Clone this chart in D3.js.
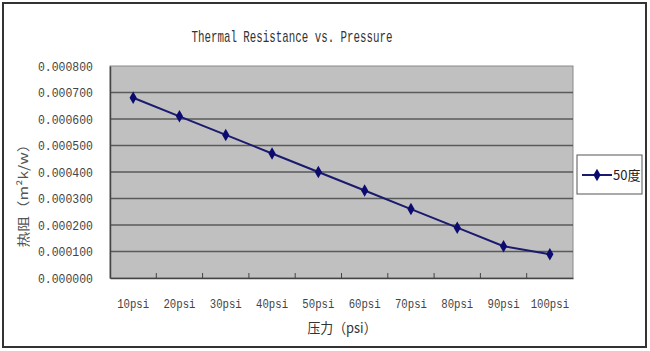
<!DOCTYPE html>
<html>
<head>
<meta charset="utf-8">
<script src="https://cdn.jsdelivr.net/npm/d3@7"></script>
<style>
  body { margin: 0; background: #fff; }
  .lat { font-family: "Liberation Mono", "DejaVu Sans Mono", monospace; }
  .cjk { font-family: "Noto Sans CJK SC", sans-serif; }
</style>
</head>
<body>
<script>
/* ------------------------------ chart data ------------------------------ */
const categories = ["10psi", "20psi", "30psi", "40psi", "50psi", "60psi", "70psi", "80psi", "90psi", "100psi"]
const series50 = [0.00068, 0.00061, 0.00054, 0.00047, 0.00040, 0.00033, 0.00026, 0.00019, 0.00012, 0.00009]
const yTicks = [0, 0.0001, 0.0002, 0.0003, 0.0004, 0.0005, 0.0006, 0.0007, 0.0008]
const seriesName = "50度"
const titleText = "Thermal Resistance vs. Pressure"
const xTitle = "压力（psi）"
const yTitle = "热阻（m²k/w）"

/* ----------------------------- document size ---------------------------- */
const width = 650, height = 351
const plot = { left: 110, top: 66, right: 573, bottom: 278 }

const svg = d3.select("body").append("svg").attr("width", width).attr("height", height)

// outer frame
svg.append("rect")
    .attr("x", 3).attr("y", 3).attr("width", 643).attr("height", 344)
    .attr("fill", "#fff").attr("stroke", "#333").attr("stroke-width", 2)

// scales
const x = d3.scaleBand().domain(categories).range([plot.left, plot.right])
const y = d3.scaleLinear().domain([0, 0.0008]).range([plot.bottom, plot.top])

// plot background
svg.append("rect")
    .attr("x", plot.left).attr("y", plot.top)
    .attr("width", plot.right - plot.left).attr("height", plot.bottom - plot.top)
    .attr("fill", "#c0c0c0").attr("stroke", "#8a8a8a").attr("stroke-width", 1)

// gridlines
svg.append("g").selectAll("line").data(yTicks.slice(1, -1)).enter().append("line")
    .attr("x1", plot.left).attr("x2", plot.right)
    .attr("y1", d => y(d)).attr("y2", d => y(d))
    .attr("stroke", "#5a5a5a").attr("stroke-width", 1.5)

// y axis
const yAxis = d3.axisLeft(y).tickValues(yTicks).tickSize(0).tickPadding(17)
    .tickFormat(d => d3.format(".6f")(d))
const gy = svg.append("g").attr("transform", `translate(${plot.left},0)`).call(yAxis)
gy.select(".domain").attr("stroke", "#444").attr("stroke-width", 1.5)
gy.selectAll("text").attr("class", "lat").attr("font-size", 13).attr("fill", "#444")
    .attr("textLength", 55).attr("lengthAdjust", "spacingAndGlyphs")

// x axis
const xAxis = d3.axisBottom(x).tickSize(0).tickPadding(21)
const gx = svg.append("g").attr("transform", `translate(0,${plot.bottom})`).call(xAxis)
gx.select(".domain").attr("stroke", "#444").attr("stroke-width", 1.5)
gx.selectAll("text").attr("class", "lat").attr("font-size", 13).attr("fill", "#444")
    .attr("textLength", d => d.length * 6.4).attr("lengthAdjust", "spacingAndGlyphs")
// tick marks at category boundaries, pointing inward
svg.append("g").selectAll("line").data(categories.slice(1)).enter().append("line")
    .attr("x1", d => x(d)).attr("x2", d => x(d))
    .attr("y1", plot.bottom).attr("y2", plot.bottom - 5)
    .attr("stroke", "#444").attr("stroke-width", 1)

// line
const line = d3.line().x((d, i) => x(categories[i]) + x.bandwidth() / 2).y(d => y(d))
svg.append("path").datum(series50)
    .attr("d", line).attr("fill", "none")
    .attr("stroke", "#1a1a6e").attr("stroke-width", 2)

// markers
const diamond = d3.symbol().type(d3.symbolDiamond).size(45)
svg.append("g").selectAll("path").data(series50).enter().append("path")
    .attr("d", diamond)
    .attr("transform", (d, i) => `translate(${x(categories[i]) + x.bandwidth() / 2},${y(d)})`)
    .attr("fill", "#0c0c70")

// titles
svg.append("text").attr("class", "lat").attr("x", 292).attr("y", 42).attr("text-anchor", "middle")
    .attr("font-size", 17).attr("fill", "#333")
    .attr("textLength", 201).attr("lengthAdjust", "spacingAndGlyphs").text(titleText)
svg.append("text").attr("class", "cjk").attr("x", 342).attr("y", 333).attr("text-anchor", "middle")
    .attr("font-size", 14).attr("fill", "#333")
    .attr("textLength", 69).attr("lengthAdjust", "spacingAndGlyphs").text(xTitle)
svg.append("text").attr("class", "cjk").attr("transform", "translate(28,192) rotate(-90)")
    .attr("text-anchor", "middle").attr("font-size", 13).attr("fill", "#555")
    .attr("textLength", 111).attr("lengthAdjust", "spacingAndGlyphs").text(yTitle)

// legend
const lg = svg.append("g").attr("transform", "translate(577,155)")
lg.append("rect").attr("width", 65).attr("height", 39)
    .attr("fill", "#fff").attr("stroke", "#555").attr("stroke-width", 1)
lg.append("line").attr("x1", 5).attr("x2", 35).attr("y1", 20).attr("y2", 20)
    .attr("stroke", "#1a1a6e").attr("stroke-width", 2)
lg.append("path").attr("d", diamond).attr("transform", "translate(20,20)").attr("fill", "#0c0c70")
lg.append("text").attr("class", "cjk").attr("x", 36).attr("y", 25).attr("font-size", 13)
    .attr("fill", "#222").text(seriesName)
</script>
</body>
</html>
